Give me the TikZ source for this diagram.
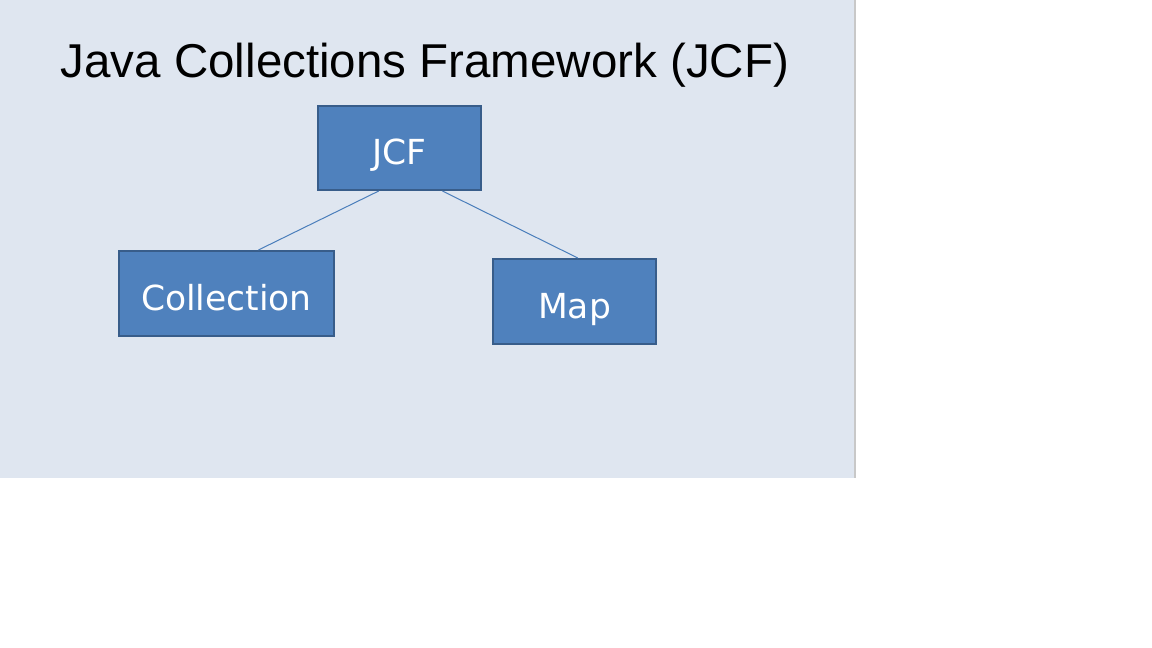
\documentclass[tikz,border=0pt]{standalone}
\usepackage{fontspec}
\setmainfont{Liberation Sans}
\newfontfamily\boxfont{DejaVu Sans}
\usetikzlibrary{calc}
\definecolor{slidebg}{RGB}{223,230,240}
\definecolor{slideedge}{RGB}{200,200,200}
\definecolor{boxfill}{RGB}{79,129,189}
\definecolor{boxedge}{RGB}{56,93,138}
\definecolor{linkcol}{RGB}{74,126,187}
\tikzset{
    jcfbox/.style={draw=boxedge, line width=2pt, fill=boxfill, text=white,
        font=\boxfont\fontsize{34.5}{40}\selectfont, inner sep=0pt,
        text height=33pt, text depth=0pt},
    link/.style={draw=linkcol, line width=1pt}
}
\begin{document}
\begin{tikzpicture}[x=1pt, y=-1pt]
    \useasboundingbox (0,0) rectangle (1152,648);
    % Slide
    \fill[slidebg] (0,0) rectangle (855,478);
    \draw[slideedge, line width=2pt] (855,0) -- (855,478);

    % Title
    \node[anchor=base, font=\fontsize{47.5}{56}\selectfont] (title) at (425,77) {Java Collections Framework (JCF)};

    % Boxes
    \node[jcfbox, minimum width=163pt, minimum height=84pt] (jcf) at (399.5,148) {JCF};
    \node[jcfbox, minimum width=215pt, minimum height=85pt] (collection) at (226.5,293.5) {Collection};
    \node[jcfbox, minimum width=163pt, minimum height=85pt] (map) at (574.5,301.5) {Map};

    % Links
    \draw[link] ($(jcf.south west)!0.374!(jcf.south east)$) -- ($(collection.north west)!0.647!(collection.north east)$);
    \draw[link] ($(jcf.south west)!0.76!(jcf.south east)$) -- ($(map.north west)!0.52!(map.north east)$);
\end{tikzpicture}
\end{document}
